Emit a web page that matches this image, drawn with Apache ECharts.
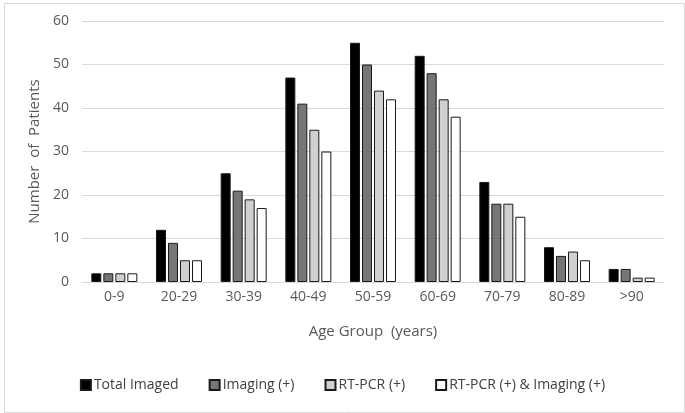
<!DOCTYPE html>
<html><head><meta charset="utf-8">
<script src="https://cdn.jsdelivr.net/npm/echarts@6/dist/echarts.min.js"></script>
<style>html,body{margin:0;padding:0;background:#fff}#c{width:685px;height:413px}</style>
</head><body><div id="c"></div>
<script>
const categories = ['0-9','20-29','30-39','40-49','50-59','60-69','70-79','80-89','>90'];
const totalImaged = [2,12,25,47,55,52,23,8,3];
const imagingPos = [2,9,21,41,50,48,18,6,3];
const rtpcrPos = [2,5,19,35,44,42,18,7,1];
const bothPos = [2,5,17,30,42,38,15,5,1];
const yTicks = [0,10,20,30,40,50,60];

const font = '"Open Sans", sans-serif';
const names = ['Total Imaged','Imaging (+)','RT-PCR (+)','RT-PCR (+) & Imaging (+)'];
const colors = ['#000000','#767676','#d0d0d0','#ffffff'];
const datas = [totalImaged, imagingPos, rtpcrPos, bothPos];
const chart = echarts.init(document.getElementById('c'));
chart.setOption({
  animation:false,
  textStyle:{fontFamily:font},
  graphic:[{type:'rect',left:2,top:1,shape:{width:680,height:409},
    style:{fill:'none',stroke:'#d9d9d9',lineWidth:1},silent:true,z:-1}],
  grid:{left:82,right:21,top:21,bottom:131},
  legend:{top:373,left:'center',itemWidth:10,itemHeight:10,itemGap:30,icon:'rect',
    textStyle:{fontFamily:font,fontSize:14,color:'#404040',padding:[0,0,0,-2]},data:names},
  xAxis:{type:'category',data:categories,name:'Age Group  (years)',nameLocation:'middle',nameGap:42,
    nameTextStyle:{fontFamily:font,fontSize:15,color:'#595959'},
    axisLine:{lineStyle:{color:'#d9d9d9'}},axisTick:{show:false},
    axisLabel:{fontFamily:font,fontSize:14,color:'#595959',margin:8}},
  yAxis:{type:'value',min:0,max:60,interval:10,name:'Number  of  Patients',nameLocation:'middle',nameGap:37,
    nameTextStyle:{fontFamily:font,fontSize:15,color:'#595959'},
    axisLine:{show:false},axisTick:{show:false},
    splitLine:{lineStyle:{color:'#d9d9d9'}},
    axisLabel:{fontFamily:font,fontSize:14,color:'#595959',margin:13}},
  series: datas.map((d,i)=>({name:names[i],type:'bar',data:d,barWidth:10,barGap:'20%',
    itemStyle:{color:colors[i],borderColor:'#1a1a1a',borderWidth:1}}))
});
</script></body></html>
